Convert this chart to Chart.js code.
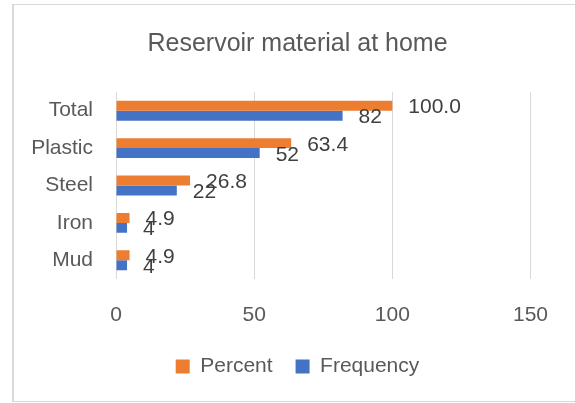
<!DOCTYPE html>
<html>
<head>
<meta charset="utf-8">
<script src="https://cdn.jsdelivr.net/npm/chart.js@4"></script>
<style>
    body { margin: 0; background: #fff; }
    #wrap { position: relative; width: 575px; height: 403px; }
    #frame {
        position: absolute; left: 12px; top: 4px; width: 600px; height: 396px;
        border: 1px solid #d9d9d9; border-left-width: 2px; pointer-events: none;
    }
</style>
</head>
<body>
<div id="wrap">
    <canvas id="chart" width="575" height="403"></canvas>
    <div id="frame"></div>
</div>
<script>
// Chart data
const categories = ['Total', 'Plastic', 'Steel', 'Iron', 'Mud'];
const percentValues = [100.0, 63.4, 26.8, 4.9, 4.9];
const frequencyValues = [82, 52, 22, 4, 4];
const xTicks = [0, 50, 100, 150];

const FONT = "'Liberation Sans', Arial, sans-serif";
const axisColor = '#595959';
const gridColor = '#d9d9d9';

// Value labels drawn just past the end of each bar
const barLabels = {
    id: 'barLabels',
    afterLayout(chart) {
        // let long category names run past the narrow y box without clipping
        chart.scales.y.left = 0;
    },
    afterDatasetsDraw(chart) {
        const ctx = chart.ctx;
        ctx.save();
        ctx.font = '21px ' + FONT;
        ctx.fillStyle = '#404040';
        ctx.textAlign = 'left';
        ctx.textBaseline = 'alphabetic';
        chart.data.datasets.forEach((ds, i) => {
            const meta = chart.getDatasetMeta(i);
            meta.data.forEach((bar, j) => {
                const v = ds.data[j];
                const txt = i === 0 ? v.toFixed(1) : String(v);
                ctx.fillText(txt, bar.x + 16, bar.y + 7.5);
            });
        });
        ctx.restore();
    }
};

const ctx = document.getElementById('chart').getContext('2d');
new Chart(ctx, {
    type: 'bar',
    data: {
        labels: categories,
        datasets: [{
            label: 'Percent',
            data: percentValues,
            backgroundColor: '#ed7d31',
            borderWidth: 0,
            categoryPercentage: 0.532,
            barPercentage: 1
        }, {
            label: 'Frequency',
            data: frequencyValues,
            backgroundColor: '#4472c4',
            borderWidth: 0,
            categoryPercentage: 0.532,
            barPercentage: 1
        }]
    },
    options: {
        indexAxis: 'y',
        responsive: false,
        animation: false,
        layout: { padding: { left: 64.5, right: 44.5, top: 0, bottom: 16 } },
        plugins: {
            title: {
                display: true,
                text: 'Reservoir material at home',
                color: axisColor,
                font: { family: FONT, size: 25, weight: 'normal' },
                padding: { top: 29, bottom: 33 }
            },
            legend: {
                position: 'bottom',
                labels: {
                    color: axisColor,
                    font: { family: FONT, size: 21 },
                    boxWidth: 14,
                    boxHeight: 14,
                    padding: 23
                }
            },
            tooltip: { enabled: false }
        },
        scales: {
            x: {
                min: 0,
                max: 150,
                afterBuildTicks: s => { s.ticks = xTicks.map(v => ({ value: v })); },
                afterFit: s => {
                    s.height = 54;
                    s.paddingLeft = 0;
                    s.paddingRight = 0;
                },
                ticks: {
                    color: axisColor,
                    font: { family: FONT, size: 21 },
                    padding: 23.5
                },
                grid: { color: gridColor, drawTicks: false },
                border: { display: false }
            },
            y: {
                afterFit: s => { s.width = 51.5; },
                ticks: {
                    color: axisColor,
                    font: { family: FONT, size: 21 },
                    padding: 23
                },
                grid: { display: false, drawTicks: false },
                border: { display: false }
            }
        }
    },
    plugins: [barLabels]
});
</script>
</body>
</html>
